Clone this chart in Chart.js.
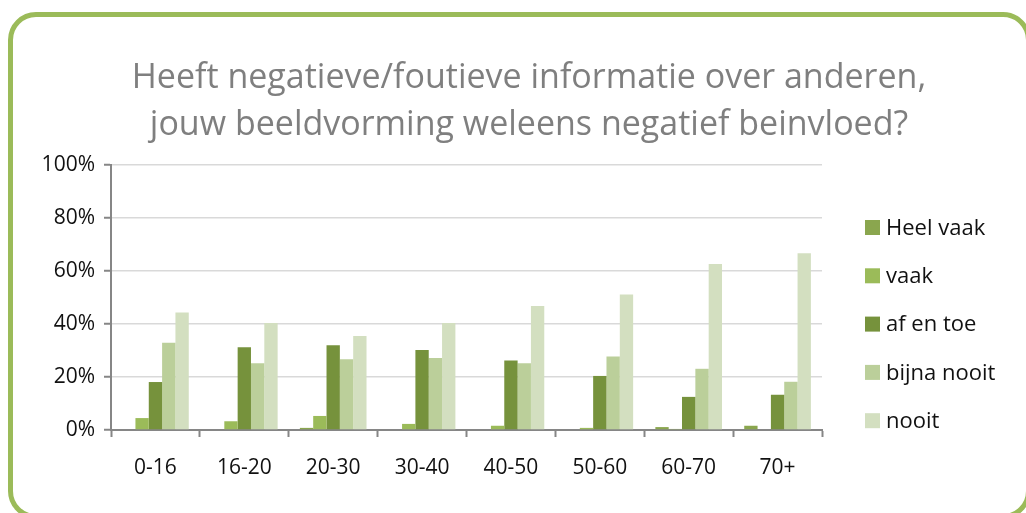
<!DOCTYPE html>
<html>
<head>
<meta charset="utf-8">
<script src="https://cdn.jsdelivr.net/npm/chart.js@4/dist/chart.umd.min.js"></script>
<style>
  html, body { margin: 0; padding: 0; background: #fff; overflow: hidden; }
  #wrap { position: relative; width: 1026px; height: 513px; }
  #frame {
    position: absolute; left: 8px; top: 12px; width: 1013px; height: 497px;
    border: 5px solid #9BBB59; border-radius: 28px;
  }
  #chart { position: absolute; left: 0; top: 0; }
</style>
</head>
<body>
<div id="wrap">
  <div id="frame"></div>
  <canvas id="chart" width="1026" height="513"></canvas>
</div>
<script>
// chart data
const titleLines = ["Heeft negatieve/foutieve informatie over anderen,", "jouw beeldvorming weleens negatief beinvloed?"];
const ageGroups = ["0-16", "16-20", "20-30", "30-40", "40-50", "50-60", "60-70", "70+"];
const seriesNames = ["Heel vaak", "vaak", "af en toe", "bijna nooit", "nooit"];
const heelVaak = [0, 0, 0.8, 0, 0, 0, 1.1, 1.6];
const vaak = [4.5, 3.3, 5.3, 2.3, 1.6, 0.8, 0.4, 0];
const afEnToe = [18.1, 31.2, 32.0, 30.2, 26.2, 20.4, 12.5, 13.3];
const bijnaNooit = [32.9, 25.2, 26.7, 27.2, 25.2, 27.7, 23.1, 18.2];
const nooit = [44.3, 40.4, 35.5, 40.4, 46.8, 51.1, 62.6, 66.7];
const yTicks = [0, 20, 40, 60, 80, 100];

const colors = ["#8AA64E", "#9BBB59", "#76923C", "#BBCF9A", "#D3DFC0"];
const allSeries = [heelVaak, vaak, afEnToe, bijnaNooit, nooit];

const FONT = "'Open Sans', 'DejaVu Sans', sans-serif";
const AXIS = "#868686";

// title + legend drawn by hand
const decorPlugin = {
  id: "decor",
  afterDraw(chart) {
    const ctx = chart.ctx;
    ctx.save();
    ctx.fillStyle = "#7F7F7F";
    ctx.font = "34px " + FONT;
    ctx.textAlign = "center";
    ctx.textBaseline = "alphabetic";
    ctx.fillText(titleLines[0], 529, 88);
    ctx.fillText(titleLines[1], 529, 135);

    ctx.font = "22px " + FONT;
    ctx.textAlign = "left";
    ctx.textBaseline = "middle";
    chart.data.datasets.forEach((ds, i) => {
      const cy = 227.5 + i * 48.3;
      ctx.fillStyle = ds.backgroundColor;
      ctx.fillRect(865, cy - 7.5, 15, 15);
      ctx.fillStyle = "#111";
      ctx.fillText(ds.label, 886, cy + 1);
    });
    ctx.restore();
  }
};

const ctx = document.getElementById("chart").getContext("2d");
new Chart(ctx, {
  type: "bar",
  data: {
    labels: ageGroups,
    datasets: seriesNames.map((name, i) => ({
      label: name,
      data: allSeries[i],
      backgroundColor: colors[i],
      borderWidth: 0,
      categoryPercentage: 0.75,
      barPercentage: 1.0
    }))
  },
  options: {
    responsive: false,
    animation: false,
    layout: { padding: { left: 0, right: 204, top: 165, bottom: 0 } },
    plugins: {
      legend: { display: false },
      title: { display: false },
      tooltip: { enabled: false }
    },
    scales: {
      x: {
        afterFit(scale) { scale.height = 83; },
        grid: {
          offset: true,
          drawOnChartArea: false,
          tickLength: 7,
          tickColor: AXIS,
          tickWidth: 2
        },
        border: { color: AXIS, width: 2 },
        ticks: { color: "#111", font: { family: FONT, size: 21 }, padding: 18 }
      },
      y: {
        min: 0,
        max: 100,
        afterFit(scale) { scale.width = 111; },
        afterBuildTicks(scale) { scale.ticks = yTicks.map(v => ({ value: v })); },
        grid: {
          color: "#D9D9D9",
          lineWidth: 1.5,
          tickLength: 7,
          tickColor: AXIS,
          tickWidth: 2
        },
        border: { color: AXIS, width: 2 },
        ticks: {
          color: "#111",
          font: { family: FONT, size: 21 },
          padding: 9,
          callback: v => v + "%"
        }
      }
    }
  },
  plugins: [decorPlugin]
});
</script>
</body>
</html>
